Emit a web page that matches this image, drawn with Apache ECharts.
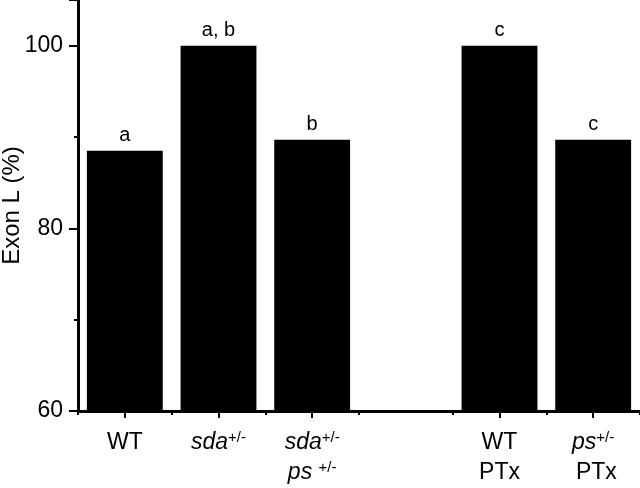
<!DOCTYPE html>
<html><head><meta charset="utf-8">
<script src="https://cdn.jsdelivr.net/npm/echarts@6/dist/echarts.min.js"></script>
<style>html,body{margin:0;padding:0;background:#fff}#c{width:640px;height:488px}</style>
</head><body><div id="c"></div>
<script>
var categories = ['WT', 'sda', 'sdaps', '', 'WTPTx', 'psPTx'];
var categoryLabels = [
  'WT',
  '{i|sda}{s|+/-}',
  '{i|sda}{s|+/-}\n{i|ps }{s|+/-}',
  '',
  'WT\nPTx',
  '{i|ps}{s|+/-}\n PTx'
];
var values = [88.5, 100, 89.7, null, 100, 89.7];
var letters = ['a', 'a, b', 'b', '', 'c', 'c'];
var yTicks = [60, 80, 100];

var FONT = '"Liberation Sans", Arial, sans-serif';
var chart = echarts.init(document.getElementById('c'), null, {renderer: 'canvas'});
var rich = {
  i: {fontStyle: 'italic', fontSize: 23, fontFamily: FONT, color: '#000', lineHeight: 30},
  s: {fontSize: 15, fontFamily: FONT, color: '#000', padding: [0, 0, 11, 0], lineHeight: 30}
};
chart.setOption({
  animation: false,
  backgroundColor: '#fff',
  grid: {left: 78, right: 0, top: 0, bottom: 77, containLabel: false, outerBoundsMode: 'none'},
  xAxis: [{
    type: 'category',
    data: categories,
    boundaryGap: true,
    axisLine: {lineStyle: {color: '#000', width: 3}},
    axisTick: {show: true, length: 4, lineStyle: {color: '#000', width: 2}},
    axisLabel: {
      interval: 0,
      margin: 17,
      fontSize: 23,
      lineHeight: 30,
      fontFamily: FONT,
      color: '#000',
      formatter: function (v, idx) { return categoryLabels[idx]; },
      rich: rich
    }
  }, {
    type: 'category',
    data: categories,
    position: 'bottom',
    boundaryGap: true,
    axisLine: {show: false},
    axisTick: {show: true, alignWithLabel: true, length: 7,
      interval: function (idx) { return categories[idx] !== ''; },
      lineStyle: {color: '#000', width: 2}},
    axisLabel: {show: false}
  }],
  yAxis: {
    type: 'value',
    min: 60, max: 105, interval: 20,
    axisLine: {show: true, lineStyle: {color: '#000', width: 3}},
    axisTick: {show: true, length: 9, lineStyle: {color: '#000', width: 2}},
    minorTick: {show: true, splitNumber: 2, length: 4, lineStyle: {color: '#000', width: 2}},
    splitLine: {show: false},
    axisLabel: {
      margin: 15, fontSize: 23, fontFamily: FONT, color: '#000',
      formatter: function (v) { return yTicks.indexOf(v) >= 0 ? String(v) : ''; }
    },
    name: 'Exon L (%)',
    nameLocation: 'middle',
    nameGap: 54,
    nameMoveOverlap: false,
    nameRotate: 90,
    nameTextStyle: {fontSize: 24, fontFamily: FONT, color: '#000'}
  },
  series: [{
    type: 'bar',
    data: values,
    barWidth: '81%',
    itemStyle: {color: '#000'},
    label: {
      show: true, position: 'top', distance: 5,
      fontSize: 20, fontFamily: FONT, color: '#000',
      formatter: function (p) { return letters[p.dataIndex]; }
    }
  }]
});
</script></body></html>
